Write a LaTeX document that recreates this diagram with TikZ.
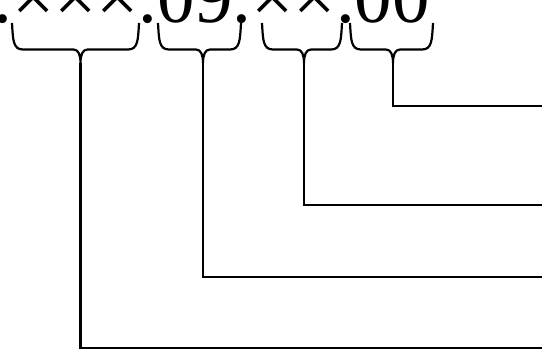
\documentclass[tikz,border=0pt]{standalone}
\usepackage{fontspec}
\setmainfont{Liberation Serif}
\newcommand{\bracepath}[3]{% xl, xt, xr
  \draw[bracestyle] (#1,23) .. controls (#1+1,40) and (#1+1,49.5) .. (#1+11,49.5)
    -- (#2-7,49.5) .. controls (#2-2,49.5) and (#2,55) .. (#2,63)
    .. controls (#2,55) and (#2+2,49.5) .. (#2+7,49.5)
    -- (#3-11,49.5) .. controls (#3-1,49.5) and (#3-1,40) .. (#3,23);}
\begin{document}
\begin{tikzpicture}[x=1pt,y=-1pt,
  bracestyle/.style={line width=2.2pt,line join=round},
  leader/.style={line width=2.2pt},
  code/.style={inner sep=0pt,outer sep=0pt,anchor=base west,font=\fontsize{75}{80}\selectfont}]
\useasboundingbox (0,0) rectangle (542,349);
\fill[white] (0,0) rectangle (542,349);
\node[code] (label) at (-6.7,22) {.×××.09.××.00};
% braces
\bracepath{12}{80.5}{139}
\bracepath{158}{203}{241}
\bracepath{262}{304}{342}
\bracepath{350}{393}{433}
% tips and free ends
\coordinate (tip1) at (80.5,63);
\coordinate (tip2) at (203,63);
\coordinate (tip3) at (304,63);
\coordinate (tip4) at (393,63);
\coordinate (end1) at (543,348);
\coordinate (end2) at (543,277);
\coordinate (end3) at (543,205);
\coordinate (end4) at (543,106);
\draw[leader] (tip1) |- (end1);
\draw[leader] (tip2) |- (end2);
\draw[leader] (tip3) |- (end3);
\draw[leader] (tip4) |- (end4);
\end{tikzpicture}
\end{document}
